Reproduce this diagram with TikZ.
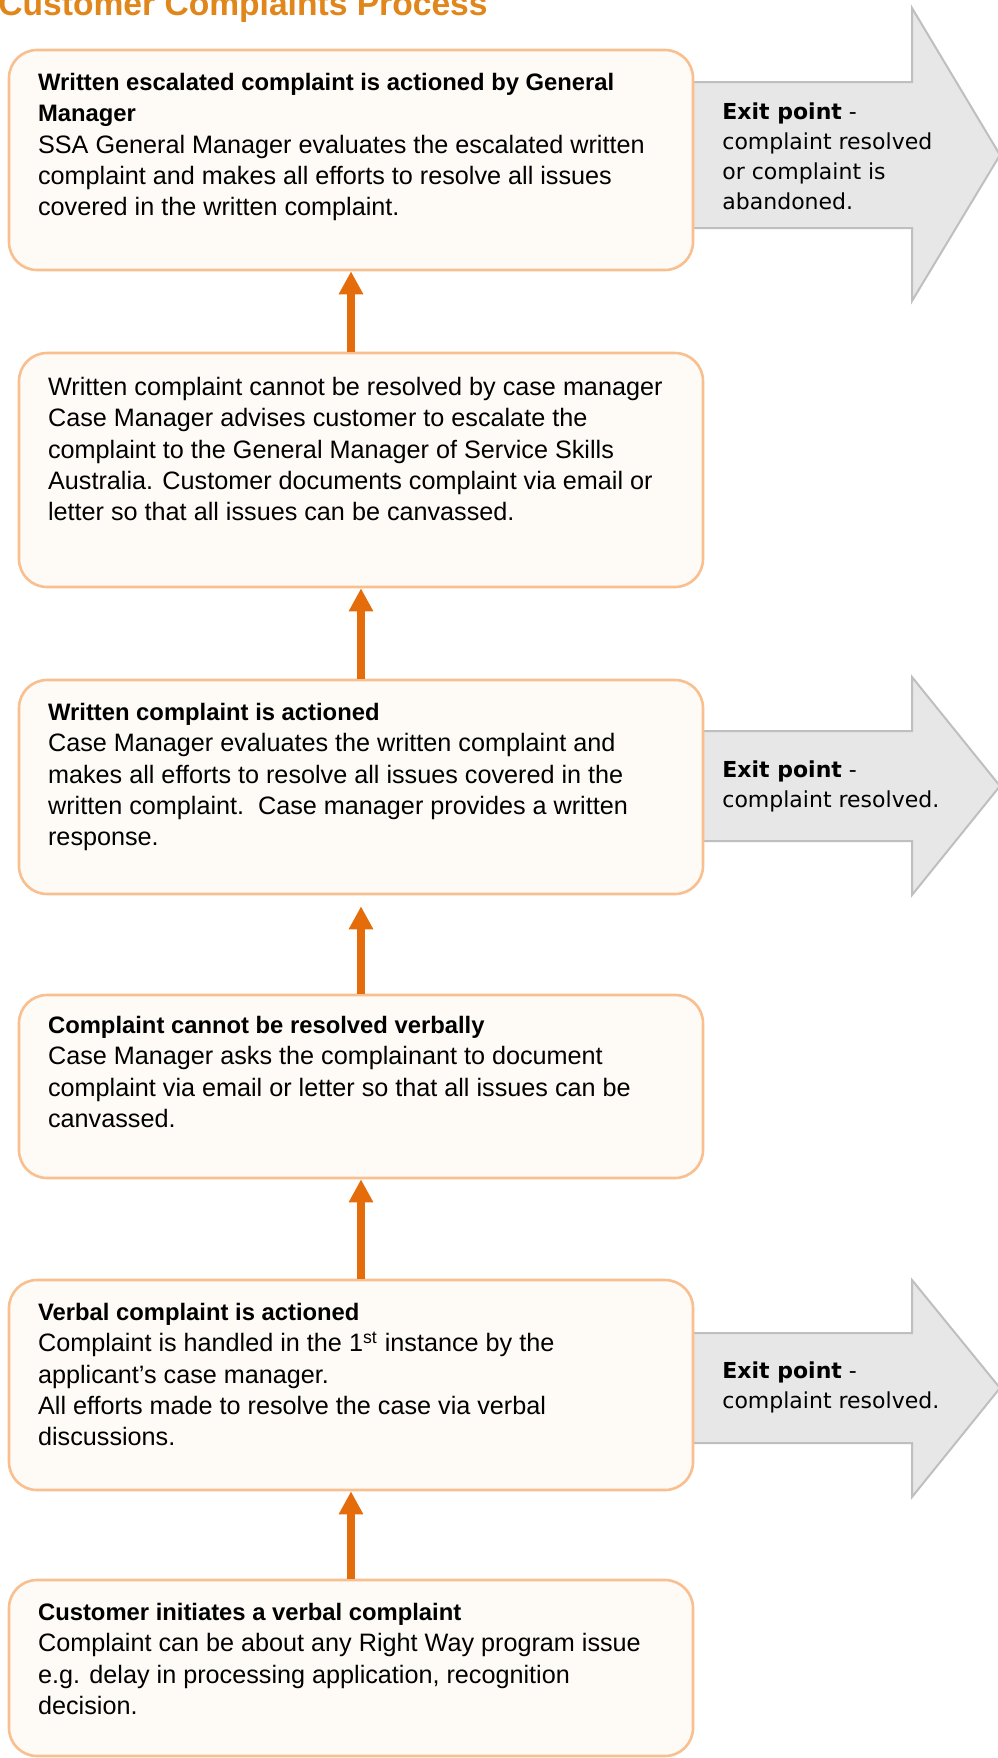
\documentclass[tikz,border=0pt]{standalone}
\usepackage{fontspec}
\setmainfont{Liberation Sans}
\newfontfamily\exitfont{DejaVu Sans}
\usetikzlibrary{arrows.meta,fit}
\definecolor{titleorange}{HTML}{E0861A}
\definecolor{edge}{HTML}{F9BF8F}
\definecolor{paper}{HTML}{FEFAF6}
\definecolor{flow}{HTML}{E46C0A}
\definecolor{exitfill}{HTML}{E7E7E7}
\definecolor{exitedge}{HTML}{BFBFBF}
\newcommand\stagehead[1]{{\bfseries\fontsize{11.9}{15.7}\selectfont #1}}

\tikzset{
  stagebox/.style={draw=edge, line width=1.3pt, fill=paper, rounded corners=14pt, inner sep=0pt},
  stagetext/.style={anchor=north west, inner sep=0pt, align=left, font=\fontsize{12.6}{15.7}\selectfont},
  exitarrow/.style={draw=exitedge, fill=exitfill, line width=1pt},
  exittext/.style={anchor=north west, inner sep=0pt, align=left, font=\exitfont\fontsize{11}{15}\selectfont},
  flowarrow/.style={draw=flow, line width=4pt, -{Triangle[length=11.5pt,width=11.5pt]}}
}

\begin{document}
\begin{tikzpicture}[x=0.5pt,y=-0.5pt]
  \useasboundingbox (0,0) rectangle (997,1758);
  \fill[white] (0,0) rectangle (997,1758);
  \node[anchor=base west, inner sep=0pt, text=titleorange, font=\bfseries\fontsize{16.8}{20}\selectfont] (title) at (-2,15) {Customer Complaints Process};

  % exit arrows, behind the boxes
  \draw[exitarrow] (680,82) -- (912,82) -- (912,8) -- (1000,155) -- (912,301) -- (912,228) -- (680,228) -- cycle;
  \draw[exitarrow] (680,731) -- (912,731) -- (912,677) -- (1000,786) -- (912,895) -- (912,841) -- (680,841) -- cycle;
  \draw[exitarrow] (680,1333) -- (912,1333) -- (912,1280) -- (1000,1388) -- (912,1497) -- (912,1443) -- (680,1443) -- cycle;

  % stages
  \node[stagebox, fit={(9,50) (693,270)}] (b1) {};
  \node[stagebox, fit={(19,353) (703,587)}] (b2) {};
  \node[stagebox, fit={(19,680) (703,894)}] (b3) {};
  \node[stagebox, fit={(19,995) (703,1178)}] (b4) {};
  \node[stagebox, fit={(9,1280) (693,1490)}] (b5) {};
  \node[stagebox, fit={(9,1580) (693,1756)}] (b6) {};

  \node[stagetext] (t1) at ([shift={(30,24)}]b1.north west) {\stagehead{Written escalated complaint is actioned by General}\\\stagehead{Manager}\\SSA General Manager evaluates the escalated written\\complaint and makes all efforts to resolve all issues\\covered in the written complaint.};
  \node[stagetext] (t2) at ([shift={(30,25)}]b2.north west) {Written complaint cannot be resolved by case manager\\Case Manager advises customer to escalate the\\complaint to the General Manager of Service Skills\\Australia. Customer documents complaint via email or\\letter so that all issues can be canvassed.};
  \node[stagetext] (t3) at ([shift={(30,24)}]b3.north west) {\stagehead{Written complaint is actioned}\\Case Manager evaluates the written complaint and\\makes all efforts to resolve all issues covered in the\\written complaint.\ \ Case manager provides a written\\response.};
  \node[stagetext] (t4) at ([shift={(30,22)}]b4.north west) {\stagehead{Complaint cannot be resolved verbally}\\Case Manager asks the complainant to document\\complaint via email or letter so that all issues can be\\canvassed.};
  \node[stagetext] (t5) at ([shift={(30,24)}]b5.north west) {\stagehead{Verbal complaint is actioned}\\Complaint is handled in the 1\textsuperscript{st} instance by the\\applicant’s case manager.\\All efforts made to resolve the case via verbal\\discussions.};
  \node[stagetext] (t6) at ([shift={(30,24)}]b6.north west) {\stagehead{Customer initiates a verbal complaint}\\Complaint can be about any Right Way program issue\\e.g. delay in processing application, recognition\\decision.};

  % exit points
  \node[exittext] (e1) at (722,102) {\textbf{Exit point} -\\complaint resolved\\or complaint is\\abandoned.};
  \node[exittext] (e2) at (722,760) {\textbf{Exit point} -\\complaint resolved.};
  \node[exittext] (e3) at (722,1361) {\textbf{Exit point} -\\complaint resolved.};

  % flow upwards
  \draw[flowarrow] (b2.north -| b1.south) -- (b1.south);
  \draw[flowarrow] (b3.north -| b2.south) -- (b2.south);
  \draw[flowarrow, shorten >=5.5pt] (b4.north -| b3.south) -- (b3.south);
  \draw[flowarrow] (b5.north -| b4.south) -- (b4.south);
  \draw[flowarrow] (b6.north -| b5.south) -- (b5.south);
\end{tikzpicture}
\end{document}
